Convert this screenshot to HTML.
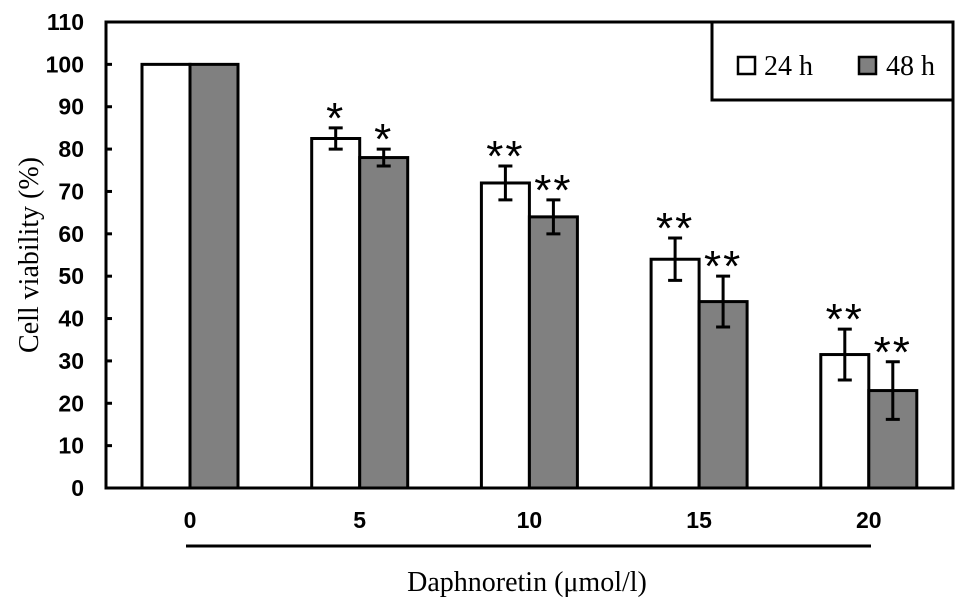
<!DOCTYPE html>
<html><head><meta charset="utf-8"><style>
html,body{margin:0;padding:0;background:#fff;}
svg{display:block;}
</style></head><body>
<svg id="chart" width="969" height="611" viewBox="0 0 969 611" xmlns="http://www.w3.org/2000/svg">
<g id="plot"></g>
</svg>
<script>
const categories = ["0","5","10","15","20"];
const values24 = [100, 82.5, 72, 54, 31.5];
const err24 = [0, 2.5, 4, 5, 6];
const values48 = [100, 78, 64, 44, 23];
const err48 = [0, 2, 4, 6, 6.8];
const stars24 = ["", "*", "**", "**", "**"];
const stars48 = ["", "*", "**", "**", "**"];
const yTicks = [0,10,20,30,40,50,60,70,80,90,100,110];

const NS = "http://www.w3.org/2000/svg";
const g = document.getElementById("plot");
const L = 106, R = 953, T = 22, B = 488, yMax = 110;
const y = v => B - (v / yMax) * (B - T);
const groupCenter = i => 190 + i * 169.7;
const barW = 48;

function mk(tag, attrs, text){
  const e = document.createElementNS(NS, tag);
  for (const k in attrs) e.setAttribute(k, attrs[k]);
  if (text !== undefined) e.textContent = text;
  g.appendChild(e);
  return e;
}

let e = mk("rect",{x:L,y:T,width:R-L,height:B-T,fill:"none",stroke:"#000","stroke-width":3});



yTicks.forEach(t=>{
  let ln = mk("line",{x1:L,x2:L+6,y1:y(t),y2:y(t),stroke:"#000","stroke-width":3});
  
  
  let tx = mk("text",{x:84,y:y(t)+8,"text-anchor":"end","font-family":"Liberation Sans Narrow, Liberation Sans, sans-serif","font-size":23,"font-weight":"bold"}, String(t));
  
  
});

categories.forEach((c,i)=>{
  const cx = groupCenter(i);
  [[values24,err24,stars24,"#fff",cx-barW,"24h"],[values48,err48,stars48,"#808080",cx,"48h"]].forEach(([vals,errs,st,fill,x0,nm])=>{
    const v = vals[i];
    let r = mk("rect",{x:x0,y:y(v),width:barW,height:B-y(v),fill:fill,stroke:"#000","stroke-width":3});
    
    
    const m = x0 + barW/2;
    if (errs[i] > 0){
      const eTop = y(v+errs[i]), eBot = y(v-errs[i]);
      let el = mk("path",{d:`M${m},${eTop}V${eBot}M${m-7},${eTop}H${m+7}M${m-7},${eBot}H${m+7}`,stroke:"#000","stroke-width":3,fill:"none"});
      
      
    }
    if (st[i]){
      const top = y(v+errs[i]);
      let s = mk("text",{x:m,y:top+5,"text-anchor":"middle","font-family":"Liberation Sans, sans-serif","font-size":44,"letter-spacing":"2"}, st[i]);
      
      
    }
  });
  let tx = mk("text",{x:cx,y:528,"text-anchor":"middle","font-family":"Liberation Sans Narrow, Liberation Sans, sans-serif","font-size":23,"font-weight":"bold"}, c);
  
  
});

e = mk("line",{x1:186,x2:871,y1:546,y2:546,stroke:"#000","stroke-width":3});



e = mk("text",{x:527,y:591,"text-anchor":"middle","font-family":"Liberation Serif, serif","font-size":28}, "Daphnoretin (\u03bcmol/l)");


e = mk("text",{x:0,y:0,"text-anchor":"middle","font-family":"Liberation Serif, serif","font-size":28,transform:"translate(38,255) rotate(-90)"}, "Cell viability (%)");



e = mk("rect",{x:712,y:22,width:241,height:78,fill:"#fff",stroke:"#000","stroke-width":3});


e = mk("rect",{x:738,y:57,width:17,height:17,fill:"#fff",stroke:"#000","stroke-width":2.5});


e = mk("text",{x:764,y:75,"font-family":"Liberation Serif, serif","font-size":28}, "24 h");


e = mk("rect",{x:859,y:57,width:17,height:17,fill:"#808080",stroke:"#000","stroke-width":2.5});


e = mk("text",{x:886,y:75,"font-family":"Liberation Serif, serif","font-size":28}, "48 h");


</script>
</body></html>
